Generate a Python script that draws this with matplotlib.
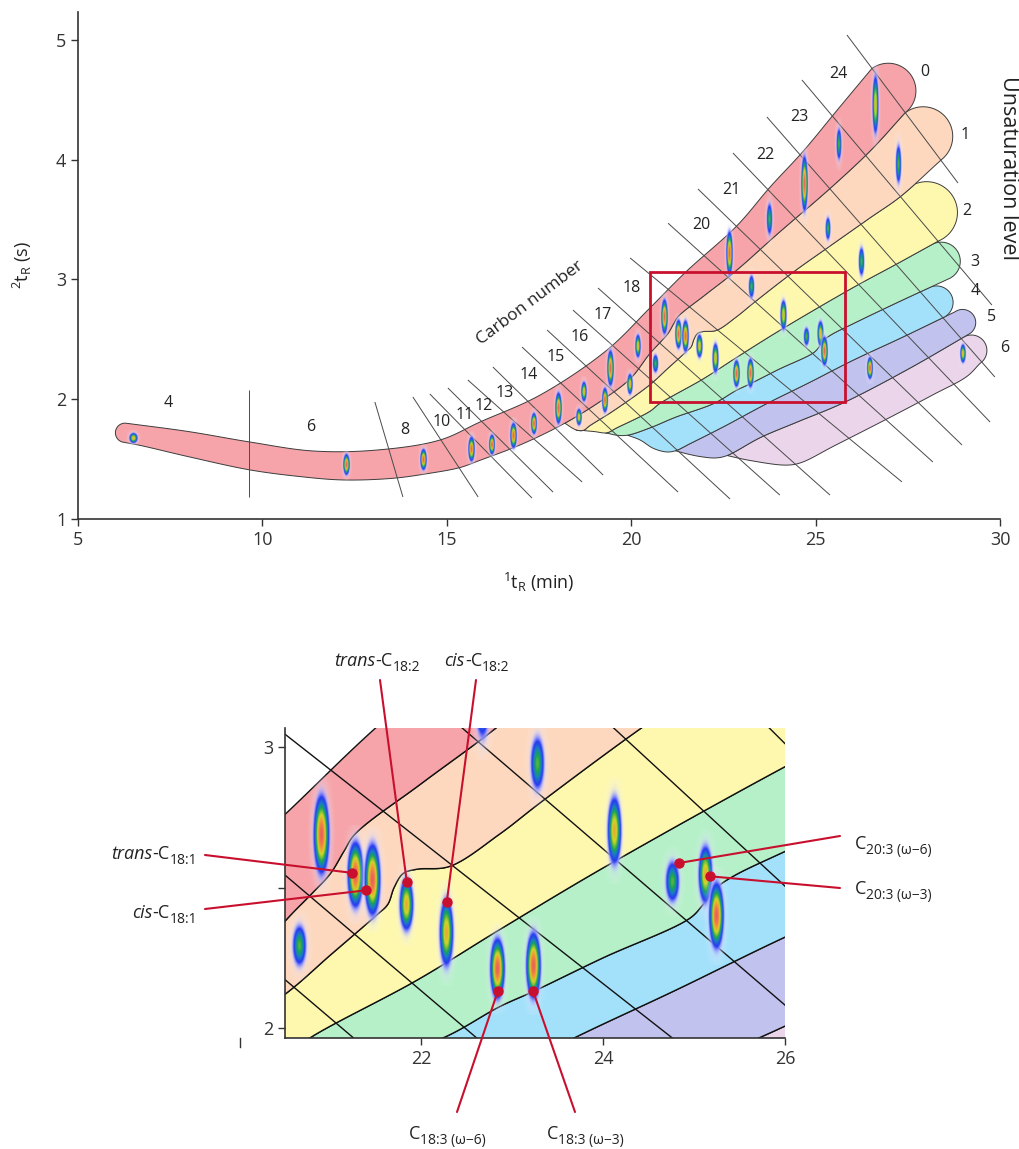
import numpy as np
import matplotlib
matplotlib.use("Agg")
import matplotlib.pyplot as plt
from matplotlib.patches import Polygon, Rectangle
from matplotlib.colors import LinearSegmentedColormap

plt.rcParams['font.family'] = ['Open Sans', 'DejaVu Sans']
plt.rcParams['mathtext.fontset'] = 'custom'
plt.rcParams['mathtext.rm'] = 'Open Sans'
plt.rcParams['mathtext.it'] = 'Open Sans:italic'
plt.rcParams['mathtext.bf'] = 'Open Sans:bold'

# ---------------- data ----------------
BAND_COLORS = ['#F6A4A9', '#FDD8BF', '#FEF8AE', '#B5F0C8', '#A3E1FA', '#C2C2EF', '#EBD5EB']

# boundaries between unsaturation bands (1tR min, 2tR s)
B0 = [(6.30, 1.80), (8.0, 1.73), (9.66, 1.643), (11.37, 1.568), (13.11, 1.576), (14.82, 1.66),
      (15.90, 1.81), (17.53, 2.035), (19.34, 2.41), (20.5, 2.76), (21.47, 3.06), (22.87, 3.45),
      (23.76, 3.77), (24.66, 4.07), (25.6, 4.42), (26.52, 4.76)]
B1 = [(6.25, 1.64), (6.68, 1.615), (8.0, 1.52), (9.66, 1.41), (11.0, 1.355), (12.19, 1.326),
      (13.54, 1.34), (14.5, 1.38), (15.36, 1.43), (15.9, 1.49), (17.0, 1.62), (18.2, 1.80),
      (19.34, 2.02), (20.0, 2.18), (20.5, 2.38), (20.8, 2.48), (21.0, 2.55), (21.15, 2.63),
      (21.27, 2.69), (22.0, 2.87), (22.83, 3.07), (24.0, 3.39), (25.39, 3.76), (26.5, 4.08),
      (27.42, 4.39)]
B2 = [(18.2, 1.80), (18.5, 1.745), (18.7, 1.74), (18.88, 1.78), (19.5, 1.90), (20.5, 2.12),
      (21.0, 2.26), (21.5, 2.40), (21.63, 2.44), (21.70, 2.50), (21.80, 2.55), (21.95, 2.565),
      (22.31, 2.575), (22.86, 2.69), (23.3, 2.80), (24.43, 3.07), (25.3, 3.26), (26.5, 3.52),
      (27.29, 3.69), (28.41, 4.0)]
B3 = [(18.5, 1.745), (19.0, 1.73), (19.34, 1.72), (19.6, 1.76), (20.51, 1.90), (20.77, 1.964),
      (21.95, 2.17), (22.86, 2.35), (24.0, 2.57), (26.0, 2.93), (27.2, 3.13), (28.32, 3.32)]
B4 = [(19.3, 1.721), (19.6, 1.70), (19.9, 1.70), (20.5, 1.76), (21.2, 1.85), (22.24, 1.965),
      (22.86, 2.076), (23.23, 2.13), (24.0, 2.25), (24.95, 2.39), (25.1, 2.44), (25.25, 2.50),
      (25.43, 2.54), (26.01, 2.63), (27.3, 2.82), (28.64, 3.01)]
B5 = [(19.9, 1.70), (20.24, 1.66), (20.6, 1.59), (20.96, 1.56), (21.2, 1.57), (21.6, 1.63),
      (22.5, 1.77), (23.67, 1.963), (24.8, 2.135), (26.01, 2.325), (27.3, 2.51), (28.78, 2.73)]
B6 = [(21.2, 1.57), (21.5, 1.545), (21.9, 1.52), (22.3, 1.51), (22.6, 1.53), (23.5, 1.68),
      (24.5, 1.81), (25.75, 1.97), (27.5, 2.25), (29.19, 2.55)]
B7 = [(22.6, 1.53), (23.2, 1.49), (24.2, 1.45), (24.6, 1.47), (25.5, 1.61), (26.9, 1.83),
      (28.2, 2.04), (29.1, 2.19), (29.46, 2.30)]
BOUNDS = [B0, B1, B2, B3, B4, B5, B6, B7]
CAP_UPPER_X = [26.52, 27.42, 27.70, 28.17, 28.05, 28.78, 28.99]
CAP_LOWER_X = [27.42, 28.41, 28.32, 28.64, 28.51, 29.19, 29.46]

# carbon-number iso-lines (x0, y0) -> (x1, y1)
CLINE_X0 = [9.64, 13.05, 14.08, 14.54, 15.03, 15.57, 16.25, 17.04, 17.72, 18.42, 19.10, 19.97, 21.0, 21.81, 22.76, 23.68, 24.63, 25.85]
CLINE_Y0 = [2.077, 1.977, 2.019, 2.044, 2.094, 2.161, 2.269, 2.436, 2.578, 2.745, 2.929, 3.18, 3.47, 3.756, 4.056, 4.357, 4.666, 5.042]
CLINE_X1 = [9.64, 13.81, 15.85, 17.31, 17.88, 18.67, 19.24, 21.27, 22.68, 24.03, 25.39, 27.34, 28.18, 28.97, 29.73, 29.86, 29.78, 28.86]
CLINE_Y1 = [1.184, 1.184, 1.184, 1.175, 1.225, 1.309, 1.367, 1.225, 1.167, 1.20, 1.20, 1.31, 1.476, 1.618, 1.81, 2.186, 2.787, 3.806]

CARBON_LABELS = ['4', '6', '8', '10', '11', '12', '13', '14', '15', '16', '17', '18', '20', '21', '22', '23', '24']
CARBON_LX = [7.45, 11.31, 13.87, 14.86, 15.49, 15.99, 16.58, 17.21, 17.95, 18.59, 19.24, 20.01, 21.91, 22.72, 23.63, 24.55, 25.62]
CARBON_LY = [1.97, 1.77, 1.74, 1.81, 1.87, 1.94, 2.05, 2.20, 2.355, 2.52, 2.70, 2.93, 3.455, 3.75, 4.04, 4.36, 4.72]

UNSAT_LABELS = ['0', '1', '2', '3', '4', '5', '6']
UNSAT_LX = [27.97, 29.05, 29.10, 29.32, 29.32, 29.77, 30.13]
UNSAT_LY = [4.735, 4.21, 3.57, 3.15, 2.90, 2.69, 2.43]

# peaks: 1tR, 2tR, height (s), width (min), intensity level
PEAK_X = [6.50, 12.27, 14.36, 15.65, 16.23, 16.80, 17.37, 18.02, 18.57, 18.70, 19.29, 19.43, 19.97,
          20.18, 20.66, 20.90, 21.27, 21.46, 21.83, 22.28, 22.84, 23.23, 24.12, 24.76, 25.12, 25.24,
          26.47, 28.98, 22.67, 23.27, 23.74, 24.69, 25.32, 25.64, 26.23, 26.61, 27.24]
PEAK_Y = [1.67, 1.45, 1.49, 1.58, 1.62, 1.70, 1.79, 1.92, 1.85, 2.06, 1.99, 2.26, 2.13,
          2.44, 2.295, 2.687, 2.544, 2.527, 2.44, 2.34, 2.21, 2.22, 2.70, 2.52, 2.545, 2.40,
          2.26, 2.38, 3.22, 2.94, 3.50, 3.80, 3.42, 4.13, 3.15, 4.46, 3.96]
PEAK_H = [0.09, 0.18, 0.18, 0.21, 0.17, 0.22, 0.18, 0.27, 0.15, 0.18, 0.21, 0.31, 0.19,
          0.21, 0.18, 0.30, 0.25, 0.27, 0.21, 0.27, 0.23, 0.25, 0.27, 0.18, 0.23, 0.25,
          0.19, 0.17, 0.38, 0.23, 0.32, 0.48, 0.23, 0.32, 0.29, 0.54, 0.39]
PEAK_W = [0.24, 0.17, 0.17, 0.17, 0.16, 0.17, 0.16, 0.17, 0.16, 0.16, 0.16, 0.18, 0.16,
          0.16, 0.18, 0.18, 0.18, 0.18, 0.17, 0.17, 0.17, 0.17, 0.17, 0.18, 0.17, 0.17,
          0.16, 0.16, 0.18, 0.18, 0.17, 0.18, 0.16, 0.16, 0.17, 0.18, 0.17]
PEAK_LVL = [1, 2, 2, 2, 2, 2, 2, 2, 1, 1, 2, 2, 1,
            1, 0, 2, 2, 2, 1, 1, 2, 2, 1, 0, 1, 2,
            2, 1, 2, 0, 0, 2, 0, 0, 0, 1, 0]

# annotations in the zoomed panel: pieces (text, italic, subscript)
ANN_PIECES = [
    [('trans', True, False), ('-C', False, False), ('18:1', False, True)],
    [('cis', True, False), ('-C', False, False), ('18:1', False, True)],
    [('trans', True, False), ('-C', False, False), ('18:2', False, True)],
    [('cis', True, False), ('-C', False, False), ('18:2', False, True)],
    [('C', False, False), ('20:3 (ω−6)', False, True)],
    [('C', False, False), ('20:3 (ω−3)', False, True)],
    [('C', False, False), ('18:3 (ω−6)', False, True)],
    [('C', False, False), ('18:3 (ω−3)', False, True)],
]
ANN_X = [21.24, 21.39, 21.84, 22.28, 24.83, 25.17, 22.84, 23.23]
ANN_Y = [2.552, 2.49, 2.52, 2.45, 2.587, 2.54, 2.13, 2.13]
ANN_TXT_PX = [(197, 853), (197, 912), (377, 660), (477, 660), (855, 843), (855, 888), (447, 1133), (585, 1133)]
ANN_HA = ['right', 'right', 'center', 'center', 'left', 'left', 'center', 'center']
ANN_LINE_PX = [(205, 855), (205, 909), (380, 680), (476, 680), (840, 836), (840, 888), (457, 1112), (575, 1112)]

BOX = (20.5, 1.98, 25.8, 3.06)

# ---------------- geometry helpers ----------------
SX, SY = 36.88, 119.75
W, H = 1019, 1149


def smooth(pts, n=14):
    P = np.asarray(pts, float) * [SX, SY]
    P = np.vstack([2 * P[0] - P[1], P, 2 * P[-1] - P[-2]])
    out = [P[1]]
    for i in range(1, len(P) - 2):
        p0, p1, p2, p3 = P[i - 1], P[i], P[i + 1], P[i + 2]
        t0 = 0.0
        t1 = t0 + max(np.linalg.norm(p1 - p0) ** 0.5, 1e-6)
        t2 = t1 + max(np.linalg.norm(p2 - p1) ** 0.5, 1e-6)
        t3 = t2 + max(np.linalg.norm(p3 - p2) ** 0.5, 1e-6)
        t = np.linspace(t1, t2, n)[1:, None]
        A1 = (t1 - t) / (t1 - t0) * p0 + (t - t0) / (t1 - t0) * p1
        A2 = (t2 - t) / (t2 - t1) * p1 + (t - t1) / (t2 - t1) * p2
        A3 = (t3 - t) / (t3 - t2) * p2 + (t - t2) / (t3 - t2) * p3
        Bb1 = (t2 - t) / (t2 - t0) * A1 + (t - t0) / (t2 - t0) * A2
        Bb2 = (t3 - t) / (t3 - t1) * A2 + (t - t1) / (t3 - t1) * A3
        C = (t2 - t) / (t2 - t1) * Bb1 + (t - t1) / (t2 - t1) * Bb2
        out.extend(C)
    return np.array(out) / [SX, SY]


def clip(curve, xa, xb):
    x = curve[:, 0]
    order = np.argsort(x)
    xs, ys = x[order], curve[order, 1]
    keep = (x > xa + 1e-6) & (x < xb - 1e-6)
    return np.vstack([[xa, np.interp(xa, xs, ys)], curve[keep], [xb, np.interp(xb, xs, ys)]])


def arc(P, Q, sign, n=40):
    P = np.asarray(P) * [SX, SY]
    Q = np.asarray(Q) * [SX, SY]
    C = (P + Q) / 2
    a = P - C
    nv = np.array([-a[1], a[0]])
    if nv[0] * sign < 0:
        nv = -nv
    th = np.linspace(0, np.pi, n)[:, None]
    return (C + np.cos(th) * a + np.sin(th) * nv) / [SX, SY]


SMOOTH = [smooth(b) for b in BOUNDS]
BAND_POLYS = []
for k in range(7):
    xs = BOUNDS[k + 1][0][0]
    if k == 0:
        upper = clip(SMOOTH[0], BOUNDS[0][0][0], CAP_UPPER_X[0])
    else:
        upper = clip(SMOOTH[k], xs, CAP_UPPER_X[k])
    lower = clip(SMOOTH[k + 1], xs, CAP_LOWER_X[k])
    parts = [lower, arc(lower[-1], upper[-1], +1)[1:-1], upper[::-1]]
    if k == 0:
        parts.append(arc(upper[0], lower[0], -1)[1:-1])
    BAND_POLYS.append(np.vstack(parts))


def draw_bands(ax, lw, ec):
    for k in range(6, -1, -1):
        ax.add_patch(Polygon(BAND_POLYS[k], closed=True, facecolor=BAND_COLORS[k],
                             edgecolor=ec, lw=lw, zorder=1, joinstyle='round'))


def draw_lines(ax, lw, col):
    for x0, y0, x1, y1 in zip(CLINE_X0, CLINE_Y0, CLINE_X1, CLINE_Y1):
        ax.plot([x0, x1], [y0, y1], color=col, lw=lw, zorder=2, solid_capstyle='butt')


PEAK_CMAP = LinearSegmentedColormap.from_list('peak', [
    (0.00, (1, 1, 1, 0)),
    (0.10, (0.85, 0.85, 1.0, 0.35)),
    (0.20, (0.55, 0.58, 1.0, 0.9)),
    (0.28, (0.15, 0.22, 0.95, 1)),
    (0.42, (0.10, 0.50, 0.75, 1)),
    (0.52, (0.10, 0.64, 0.32, 1)),
    (0.70, (0.82, 0.84, 0.15, 1)),
    (0.84, (0.95, 0.60, 0.22, 1)),
    (1.00, (0.91, 0.38, 0.36, 1)),
])
LVL_PEAK = {0: 0.58, 1: 0.8, 2: 1.0}
GX, GY = np.meshgrid(np.linspace(-1.6, 1.6, 41), np.linspace(-1.4, 1.4, 81))


def draw_peaks(ax):
    R2 = GX ** 2 + GY ** 2
    for x, y, h, w, lv in zip(PEAK_X, PEAK_Y, PEAK_H, PEAK_W, PEAK_LVL):
        v = LVL_PEAK[lv] * np.exp(-1.6 * R2)
        a, b = w / 2, h / 2
        ax.imshow(v, cmap=PEAK_CMAP, vmin=0, vmax=1, origin='lower', aspect='auto',
                  extent=[x - 1.6 * a, x + 1.6 * a, y - 1.4 * b, y + 1.4 * b],
                  interpolation='bilinear', zorder=3)


# ---------------- figure ----------------
fig = plt.figure(figsize=(W / 100, H / 100), dpi=100)

ax = fig.add_axes([78 / W, 1 - 519 / H, 922 / W, 507 / H])
draw_bands(ax, 0.7, '#3c3c3c')
draw_lines(ax, 0.7, '#4a4a4a')
draw_peaks(ax)
ax.set_xlim(5, 30)
ax.set_ylim(1, 1 + 507 / SY)
for s in ['top', 'right']:
    ax.spines[s].set_visible(False)
for s in ['left', 'bottom']:
    ax.spines[s].set_color('#333333')
    ax.spines[s].set_linewidth(1.2)
ax.set_xticks([5, 10, 15, 20, 25, 30])
ax.set_yticks([1, 2, 3, 4, 5])
ax.tick_params(labelsize=13, length=5, width=1, colors='#333333')
ax.set_xlabel(r'$^{1}\mathrm{t}_{\mathrm{R}}$ (min)', fontsize=13, color='#222222', labelpad=16)
ax.set_ylabel(r'$^{2}\mathrm{t}_{\mathrm{R}}$ (s)', fontsize=13, color='#222222', labelpad=16)

for t, x, y in zip(CARBON_LABELS, CARBON_LX, CARBON_LY):
    ax.text(x, y, t, fontsize=11.5, ha='center', va='center', color='#222222', zorder=6)
for t, x, y in zip(UNSAT_LABELS, UNSAT_LX, UNSAT_LY):
    ax.text(x, y, t, fontsize=11.5, ha='center', va='center', color='#222222', zorder=6, clip_on=False)
ax.text(17.26, 2.80, 'Carbon number', fontsize=12.5, rotation=37, ha='center', va='center',
        color='#222222', zorder=6)
ax.text(30.24, 4.70, 'Unsaturation level', fontsize=15.5, rotation=-90, ha='center', va='top',
        color='#222222', zorder=6, clip_on=False)

ax.add_patch(Rectangle((BOX[0], BOX[1]), BOX[2] - BOX[0], BOX[3] - BOX[1], fill=False,
                       edgecolor='#C8102E', lw=2, zorder=7))

# ---------------- zoomed panel ----------------
ax2 = fig.add_axes([285 / W, 1 - 1038 / H, 500 / W, 310 / H])
draw_bands(ax2, 1.0, '#111111')
draw_lines(ax2, 1.0, '#111111')
draw_peaks(ax2)
ax2.set_xlim(20.5, 26)
ax2.set_ylim(3 - (1038 - 747) / 281, 3 + (747 - 728) / 281)
for s in ['top', 'right']:
    ax2.spines[s].set_visible(False)
for s in ['left', 'bottom']:
    ax2.spines[s].set_color('#333333')
    ax2.spines[s].set_linewidth(1.2)
ax2.set_xticks([22, 24, 26])
ax2.set_yticks([2, 2.5, 3])
ax2.set_yticklabels(['2', '', '3'])
ax2.tick_params(labelsize=13, length=5, width=1, colors='#333333')
ax2.plot([20, 20], [0, -0.03], transform=ax2.get_xaxis_transform(), color='#333333', lw=1, clip_on=False)

RED = '#C8102E'
renderer = fig.canvas.get_renderer()


def rich_text(px, py, pieces, ha, size=13, subsize=10):
    objs = []
    for s, it, sub in pieces:
        t = fig.text(0, 0, s, fontsize=subsize if sub else size, style='italic' if it else 'normal',
                     va='baseline', ha='left', color='#222222')
        objs.append((t, sub, t.get_window_extent(renderer).width))
    total = sum(o[2] for o in objs)
    x = px - total if ha == 'right' else (px - total / 2 if ha == 'center' else px)
    base = py + 6
    for t, sub, w in objs:
        yy = base + (5 if sub else 0)
        t.set_position((x / W, 1 - yy / H))
        x += w


for pieces, x, y, (tx, ty), ha, (lx, ly) in zip(ANN_PIECES, ANN_X, ANN_Y, ANN_TXT_PX, ANN_HA, ANN_LINE_PX):
    ax2.annotate('', xy=(x, y), xycoords='data', xytext=(lx / W, 1 - ly / H),
                 textcoords='figure fraction',
                 arrowprops=dict(arrowstyle='-', color=RED, lw=1.5, shrinkA=0, shrinkB=0),
                 annotation_clip=False, zorder=8)
    ax2.plot(x, y, 'o', color=RED, ms=6.5, zorder=9, clip_on=False)
    rich_text(tx, ty, pieces, ha)

fig.savefig('out.png', dpi=100)
